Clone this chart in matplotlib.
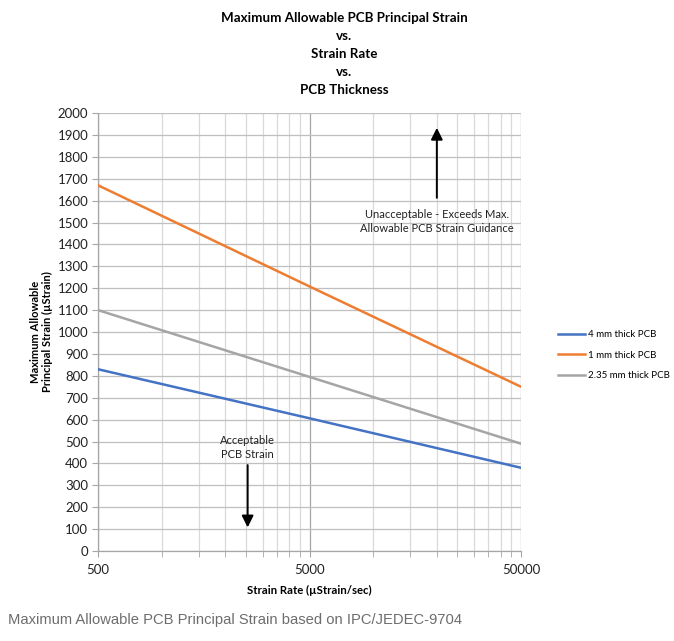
"""
Maximum allowable PCB principal strain vs strain rate, by board thickness.
"""

import matplotlib
matplotlib.use("Agg")
import matplotlib.pyplot as plt
from matplotlib.ticker import FixedLocator, NullFormatter

plt.rcParams["font.family"] = ["Lato", "DejaVu Sans"]

# ---------------------------------------------------------------------------
# Data
# ---------------------------------------------------------------------------

strain_rate = [500, 5000, 50000]
strain_4mm = [830, 606, 380]
strain_1mm = [1670, 1208, 750]
strain_235mm = [1100, 795, 490]

series_labels = ["4 mm thick PCB", "1 mm thick PCB", "2.35 mm thick PCB"]
series_colors = ["#4472C4", "#ED7D31", "#A5A5A5"]

x_major = [500, 5000, 50000]
x_minor = [500 * k for k in range(2, 10)] + [5000 * k for k in range(2, 10)]
y_ticks = list(range(0, 2001, 100))

title = ("Maximum Allowable PCB Principal Strain\nvs.\nStrain Rate\nvs.\n"
         "PCB Thickness")
caption = "Maximum Allowable PCB Principal Strain based on IPC/JEDEC-9704"

# ---------------------------------------------------------------------------
# Figure
# ---------------------------------------------------------------------------

fig = plt.figure(figsize=(6.74, 6.41), dpi=100)
ax = fig.add_axes([0.1454, 0.1404, 0.6276, 0.6833])

for ys, lab, col in zip([strain_4mm, strain_1mm, strain_235mm],
                        series_labels, series_colors):
    ax.plot(strain_rate, ys, color=col, lw=1.8, label=lab, zorder=3)

ax.set_xscale("log")
ax.set_xlim(500, 50000)
ax.set_ylim(0, 2000)
ax.xaxis.set_major_locator(FixedLocator(x_major))
ax.xaxis.set_minor_locator(FixedLocator(x_minor))
ax.xaxis.set_minor_formatter(NullFormatter())
ax.set_xticklabels([str(v) for v in x_major])
ax.set_yticks(y_ticks)

ax.grid(which="major", axis="x", color="#a6a6a6", lw=0.9)
ax.grid(which="minor", axis="x", color="#d9d9d9", lw=0.9)
ax.grid(which="major", axis="y", color="#bfbfbf", lw=0.9)
ax.set_axisbelow(True)

for side in ["top", "right"]:
    ax.spines[side].set_visible(False)
for side in ["left", "bottom"]:
    ax.spines[side].set_color("#a6a6a6")
    ax.spines[side].set_linewidth(0.9)

ax.tick_params(axis="both", which="both", color="#a6a6a6", labelsize=9.5,
               labelcolor="#222222")
ax.tick_params(axis="y", which="major", length=4, pad=3)
ax.tick_params(axis="x", which="major", length=4, pad=5)
ax.tick_params(axis="x", which="minor", length=4)

ax.set_xlabel("Strain Rate (\u00b5Strain/sec)", fontsize=8.2,
              fontweight="bold", labelpad=7)
ax.set_ylabel("Maximum Allowable\nPrincipal Strain (\u00b5Strain)",
              fontsize=8, fontweight="bold", labelpad=3)

fig.text(0.511, 0.981, title, ha="center", va="top", fontsize=9.6,
         fontweight="bold", linespacing=1.6)

# Annotations
ax.annotate("", xy=(20000, 1945), xytext=(20000, 1600),
            arrowprops=dict(arrowstyle="-|>,head_width=0.35,head_length=0.7",
                            color="black", lw=1.4))
ax.text(20000, 1505, "Unacceptable - Exceeds Max.\nAllowable PCB Strain Guidance",
        ha="center", va="center", fontsize=8, color="#222222",
        linespacing=1.4)

ax.annotate("", xy=(2550, 95), xytext=(2550, 405),
            arrowprops=dict(arrowstyle="-|>,head_width=0.35,head_length=0.7",
                            color="black", lw=1.4))
ax.text(2550, 472, "Acceptable\nPCB Strain", ha="center", va="center",
        fontsize=8, color="#222222", linespacing=1.4)

leg = ax.legend(loc="upper left", bbox_to_anchor=(0.828, 0.485),
                bbox_transform=fig.transFigure, frameon=False, fontsize=7,
                handlelength=2.8, handletextpad=0.25, labelspacing=1.2,
                borderaxespad=0, borderpad=0)

fig.text(0.012, 0.032, caption, ha="left", va="center", fontsize=10.6,
         color="#6d6d6d", family=["Liberation Sans", "DejaVu Sans"])

fig.savefig("out.png", dpi=100)
